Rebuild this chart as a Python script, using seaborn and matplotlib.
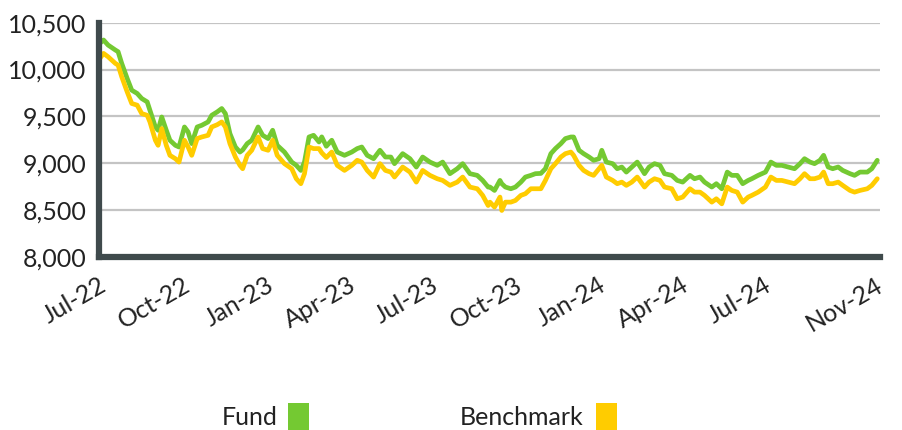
import matplotlib
matplotlib.use("Agg")
import matplotlib.pyplot as plt
import seaborn as sns
import pandas as pd
from matplotlib.patches import Rectangle

dates = [
    "2022-07-02", "2022-07-06", "2022-07-11", "2022-07-19", "2022-07-22", "2022-07-26",
    "2022-08-01", "2022-08-06", "2022-08-12", "2022-08-17", "2022-08-23", "2022-08-26",
    "2022-09-01", "2022-09-04", "2022-09-08", "2022-09-13", "2022-09-17", "2022-09-23", "2022-09-27",
    "2022-10-03", "2022-10-07", "2022-10-11", "2022-10-17", "2022-10-22", "2022-10-29",
    "2022-11-02", "2022-11-08", "2022-11-13", "2022-11-17", "2022-11-22", "2022-11-28",
    "2022-12-03", "2022-12-06", "2022-12-11", "2022-12-16", "2022-12-23", "2022-12-28",
    "2023-01-03", "2023-01-08", "2023-01-13", "2023-01-21", "2023-01-29",
    "2023-02-03", "2023-02-08", "2023-02-12", "2023-02-17", "2023-02-22", "2023-02-28",
    "2023-03-03", "2023-03-08", "2023-03-14", "2023-03-20", "2023-03-28",
    "2023-04-05", "2023-04-11", "2023-04-16", "2023-04-22", "2023-04-29",
    "2023-05-06", "2023-05-12", "2023-05-18", "2023-05-22", "2023-05-31",
    "2023-06-08", "2023-06-15", "2023-06-22", "2023-06-30",
    "2023-07-08", "2023-07-14", "2023-07-22", "2023-07-30",
    "2023-08-05", "2023-08-13", "2023-08-21", "2023-08-27",
    "2023-09-02", "2023-09-04", "2023-09-09", "2023-09-15", "2023-09-17", "2023-09-21", "2023-09-27",
    "2023-10-02", "2023-10-08", "2023-10-13", "2023-10-19", "2023-10-24", "2023-10-30",
    "2023-11-04", "2023-11-10", "2023-11-15", "2023-11-21", "2023-11-26",
    "2023-12-02", "2023-12-05", "2023-12-11", "2023-12-16", "2023-12-22", "2023-12-27",
    "2024-01-02", "2024-01-05", "2024-01-10", "2024-01-17", "2024-01-22", "2024-01-27",
    "2024-02-01", "2024-02-07", "2024-02-13", "2024-02-21", "2024-02-26",
    "2024-03-03", "2024-03-09", "2024-03-14", "2024-03-22", "2024-03-28",
    "2024-04-03", "2024-04-11", "2024-04-16", "2024-04-22", "2024-04-27",
    "2024-05-05", "2024-05-10", "2024-05-16", "2024-05-22", "2024-05-27",
    "2024-06-02", "2024-06-08", "2024-06-14", "2024-06-18", "2024-06-25",
    "2024-07-03", "2024-07-09", "2024-07-15", "2024-07-21", "2024-07-28",
    "2024-08-04", "2024-08-10", "2024-08-15", "2024-08-21", "2024-08-26",
    "2024-09-01", "2024-09-05", "2024-09-10", "2024-09-15", "2024-09-21", "2024-09-26",
    "2024-10-04", "2024-10-09", "2024-10-15", "2024-10-23", "2024-10-28",
    "2024-11-03",
]

fund = [
    10280, 10315, 10261, 10208, 10190, 10065,
    9904, 9779, 9744, 9690, 9654, 9565,
    9386, 9351, 9493, 9351, 9244, 9190, 9172,
    9386, 9333, 9208, 9386, 9404, 9440,
    9511, 9547, 9583, 9529, 9315, 9172,
    9118, 9140, 9208, 9244, 9386, 9297,
    9262, 9351, 9190, 9118, 9011,
    8976, 8922, 9011, 9279, 9297, 9226,
    9280, 9180, 9244, 9118, 9083,
    9118, 9155, 9172, 9083, 9047,
    9137, 9065, 9065, 8994, 9101,
    9047, 8958, 9065, 9011,
    8976, 9011, 8887, 8940,
    8994, 8887, 8869, 8815,
    8744, 8744, 8708, 8815, 8780, 8744, 8726,
    8744, 8797, 8851, 8869, 8887, 8890,
    8940, 9101, 9155, 9208, 9262,
    9279, 9279, 9137, 9101, 9065, 9030,
    9047, 9137, 9011, 8994, 8940, 8958,
    8904, 8958, 9011, 8887, 8958,
    8994, 8976, 8887, 8869, 8815,
    8797, 8869, 8833, 8851, 8797,
    8744, 8780, 8726, 8904, 8869,
    8869, 8780, 8815, 8833, 8869,
    8904, 9011, 8976, 8976, 8958,
    8940, 8994, 9047, 9011, 8994,
    9030, 9083, 8958, 8940, 8958, 8922,
    8887, 8869, 8904, 8904, 8940,
    9030,
]

benchmark = [
    10120, 10172, 10136, 10065, 10047, 9922,
    9761, 9637, 9619, 9529, 9511, 9440,
    9244, 9190, 9369, 9190, 9083, 9047, 9011,
    9244, 9172, 9083, 9262, 9279, 9297,
    9386, 9410, 9440, 9386, 9208, 9065,
    8976, 8940, 9083, 9137, 9279, 9155,
    9137, 9244, 9083, 8994, 8940,
    8833, 8780, 8887, 9172, 9155, 9155,
    9110, 9060, 9118, 8976, 8922,
    8976, 9030, 9011, 8922, 8851,
    8994, 8922, 8904, 8851, 8958,
    8904, 8797, 8922, 8869,
    8833, 8815, 8762, 8797,
    8851, 8744, 8726, 8655,
    8547, 8583, 8530, 8637, 8494, 8583, 8583,
    8601, 8655, 8673, 8726, 8726, 8726,
    8815, 8940, 8994, 9065, 9101,
    9118, 9083, 8976, 8922, 8887, 8869,
    8940, 8976, 8851, 8815, 8780, 8797,
    8762, 8797, 8851, 8744, 8797,
    8833, 8815, 8744, 8726, 8619,
    8637, 8726, 8690, 8690, 8655,
    8583, 8619, 8565, 8744, 8708,
    8690, 8583, 8637, 8655, 8690,
    8744, 8851, 8815, 8815, 8797,
    8780, 8833, 8887, 8833, 8833,
    8851, 8904, 8780, 8780, 8797, 8762,
    8708, 8690, 8708, 8726, 8762,
    8833,
]

series_names = ["Fund", "Benchmark"]
series_colors = ["#74C932", "#FFCC00"]

tick_dates = ["2022-07-01", "2022-10-01", "2023-01-01", "2023-04-01", "2023-07-01",
              "2023-10-01", "2024-01-01", "2024-04-01", "2024-07-01", "2024-11-01"]
tick_labels = ["Jul-22", "Oct-22", "Jan-23", "Apr-23", "Jul-23",
               "Oct-23", "Jan-24", "Apr-24", "Jul-24", "Nov-24"]
y_ticks = [8000, 8500, 9000, 9500, 10000, 10500]
y_tick_labels = ["8,000", "8,500", "9,000", "9,500", "10,000", "10,500"]

n = len(dates)
df = pd.DataFrame({
    "Date": pd.to_datetime(dates * 2),
    "Value": fund + benchmark,
    "Series": [series_names[0]] * n + [series_names[1]] * n,
})

sns.set_style("white")
plt.rcParams["font.family"] = ["Lato", "DejaVu Sans"]
FS = 18
TXT = "#222222"

W, H = 902, 430
fig = plt.figure(figsize=(W / 100, H / 100), dpi=100)
ax = fig.add_axes([99 / W, 1 - 256.7 / H, (880 - 99) / W, (256.7 - 22.7) / H])

sns.lineplot(data=df, x="Date", y="Value", hue="Series",
             palette=dict(zip(series_names, series_colors)),
             linewidth=3.4, ax=ax, legend=False)

ax.set_xlim(pd.Timestamp("2022-07-01"), pd.Timestamp("2024-11-06"))
ax.set_ylim(8000, 10500)
ax.set_yticks(y_ticks)
ax.set_yticklabels(y_tick_labels, fontsize=FS, color=TXT)
ax.set_xticks(pd.to_datetime(tick_dates))
ax.set_xticklabels(tick_labels, fontsize=FS, color=TXT, rotation=30,
                   ha="right", va="top", rotation_mode="anchor")
ax.set_xlabel("")
ax.set_ylabel("")

ax.yaxis.grid(True, color="#c4c4c4", linewidth=1.6)
ax.xaxis.grid(False)
ax.set_axisbelow(True)

for s in ["top", "right"]:
    ax.spines[s].set_visible(False)
for s in ["left", "bottom"]:
    ax.spines[s].set_color("#3f4a4c")
    ax.spines[s].set_linewidth(4.5)

ax.tick_params(axis="x", length=7, width=1.2, color="#8a8a8a", pad=5)
ax.tick_params(axis="y", length=0, pad=9)

# legend: label text followed by colour square
leg_items = [(222, 288), (460, 596)]
for (tx, sx), name, col in zip(leg_items, series_names, series_colors):
    fig.text(tx / W, (H - 425) / H, name, fontsize=FS, color=TXT, va="baseline", ha="left")
    fig.patches.append(Rectangle((sx / W, (H - 433) / H), 21 / W, 30 / H,
                                 transform=fig.transFigure, facecolor=col,
                                 edgecolor="none", figure=fig))

fig.savefig("out.png", dpi=100)
